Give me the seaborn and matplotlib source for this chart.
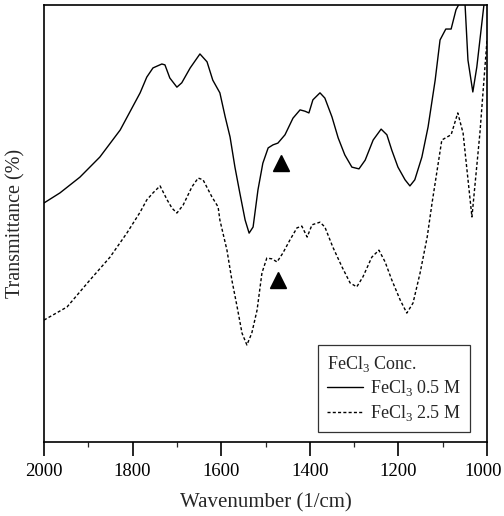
import matplotlib
matplotlib.use("Agg")
import matplotlib.pyplot as plt
import matplotlib.transforms as mtransforms
import seaborn as sns
import pandas as pd

# Wavenumbers (1/cm) and transmittance (arbitrary %)
wn_05 = [2000, 1964, 1919, 1874, 1828, 1783, 1768, 1754, 1734, 1727, 1716, 1700,
         1689, 1670, 1648, 1632, 1619, 1603, 1591, 1580, 1569, 1558, 1546, 1537,
         1528, 1517, 1506, 1494, 1483, 1472, 1456, 1438, 1422, 1411, 1402, 1393,
         1377, 1366, 1350, 1336, 1321, 1305, 1289, 1275, 1257, 1239, 1226, 1215,
         1201, 1185, 1174, 1163, 1147, 1133, 1117, 1106, 1093, 1081, 1070, 1059,
         1050, 1043, 1032, 1023, 1009, 1000]
t_05 = [54.7, 57.0, 60.6, 65.2, 71.4, 79.9, 83.5, 85.6, 86.5, 86.3, 83.3, 81.2,
        82.2, 85.6, 88.8, 87.0, 82.8, 79.9, 74.4, 69.8, 62.9, 57.0, 50.8, 47.8,
        49.2, 57.7, 63.8, 67.3, 68.0, 68.4, 70.3, 74.1, 76.0, 75.7, 75.3, 78.3,
        79.9, 78.7, 74.4, 69.6, 65.7, 62.9, 62.5, 64.5, 69.1, 71.6, 70.3, 66.8,
        62.9, 60.0, 58.6, 60.0, 65.2, 72.1, 82.8, 92.0, 94.5, 94.5, 98.9, 101.0,
        101.0, 87.4, 80.1, 85.8, 98.2, 106.0]

wn_25 = [2000, 1948, 1896, 1851, 1813, 1783, 1768, 1754, 1738, 1722, 1711, 1700,
         1686, 1666, 1652, 1641, 1621, 1607, 1603, 1587, 1576, 1564, 1553, 1542,
         1531, 1519, 1508, 1497, 1485, 1474, 1461, 1445, 1429, 1418, 1406, 1395,
         1377, 1366, 1348, 1327, 1309, 1294, 1280, 1260, 1244, 1230, 1215, 1196,
         1181, 1167, 1151, 1135, 1124, 1102, 1090, 1081, 1066, 1054, 1034, 1016,
         1000]
t_25 = [27.9, 30.9, 37.1, 42.3, 47.8, 52.6, 55.4, 57.0, 58.6, 55.4, 53.5, 52.4,
        54.2, 58.4, 60.4, 60.0, 56.1, 53.8, 50.8, 43.9, 37.1, 30.9, 24.9, 22.2,
        24.9, 30.2, 38.7, 42.1, 41.9, 41.2, 43.2, 46.2, 49.0, 49.4, 46.9, 49.7,
        50.3, 49.2, 44.6, 40.0, 36.4, 35.5, 37.8, 42.3, 43.9, 41.2, 37.1, 32.5,
        29.5, 31.8, 38.7, 46.9, 54.7, 69.1, 69.8, 70.3, 75.3, 70.7, 51.5, 70.7,
        92.0]

series_names = ["FeCl$_3$ 0.5 M", "FeCl$_3$ 2.5 M"]
legend_title = "FeCl$_3$ Conc."
marker_wn = [1465, 1472]
marker_t = [63.8, 37.1]
xticks = [2000, 1800, 1600, 1400, 1200, 1000]
minor_xticks = [1900, 1700, 1500, 1300, 1100]

sns.set_style("white")
plt.rcParams["font.family"] = ["Liberation Serif", "DejaVu Serif"]
plt.rcParams["mathtext.fontset"] = "custom"
plt.rcParams["mathtext.rm"] = "Liberation Serif"

df = pd.concat([
    pd.DataFrame({"wn": wn_05, "T": t_05, "series": series_names[0]}),
    pd.DataFrame({"wn": wn_25, "T": t_25, "series": series_names[1]}),
])

fig = plt.figure(figsize=(5.04, 5.16), dpi=100)
ax = fig.add_axes([44/504, 1-442/516, 443/504, 437/516])

sns.lineplot(data=df, x="wn", y="T", hue="series", style="series",
             palette=["black", "black"],
             dashes={series_names[0]: "", series_names[1]: (2.2, 1.6)},
             linewidth=1.0, sort=False, estimator=None, ax=ax)

ax.plot(marker_wn, marker_t, linestyle="none", marker="^", color="black",
        markersize=12)

ax.set_xlim(2000, 1000)
ax.set_ylim(0, 100)
ax.set_xticks(xticks)
ax.set_xticks(minor_xticks, minor=True)
ax.set_yticks([])
ax.tick_params(axis="x", which="major", direction="out", length=10, width=1.2,
               labelsize=13.5, pad=5, colors="black", bottom=True)
ax.tick_params(axis="x", which="minor", direction="out", length=3.6, width=0.9,
               bottom=True)
for s in ax.spines.values():
    s.set_visible(True)
    s.set_color("black")
    s.set_linewidth(1.2)

# keep the last tick label ("1000") inside the figure
last = ax.get_xticklabels()[-1]
last.set_transform(last.get_transform() +
                   mtransforms.ScaledTranslation(-4/100, 0, fig.dpi_scale_trans))

ax.set_xlabel("Wavenumber (1/cm)", fontsize=15, labelpad=10)
ax.set_ylabel("Transmittance (%)", fontsize=14.5, labelpad=13)

handles, labels = ax.get_legend_handles_labels()
leg = ax.legend(handles[:2], labels[:2], title=legend_title,
                loc="lower right", bbox_to_anchor=(0.962, 0.023),
                borderaxespad=0, frameon=True, fancybox=False,
                edgecolor="black", fontsize=13, title_fontsize=13,
                handlelength=2.0, handletextpad=0.4, borderpad=0.5,
                labelspacing=0.25)
leg._legend_box.align = "left"
leg.get_frame().set_linewidth(0.9)

fig.savefig("out.png", dpi=100)
